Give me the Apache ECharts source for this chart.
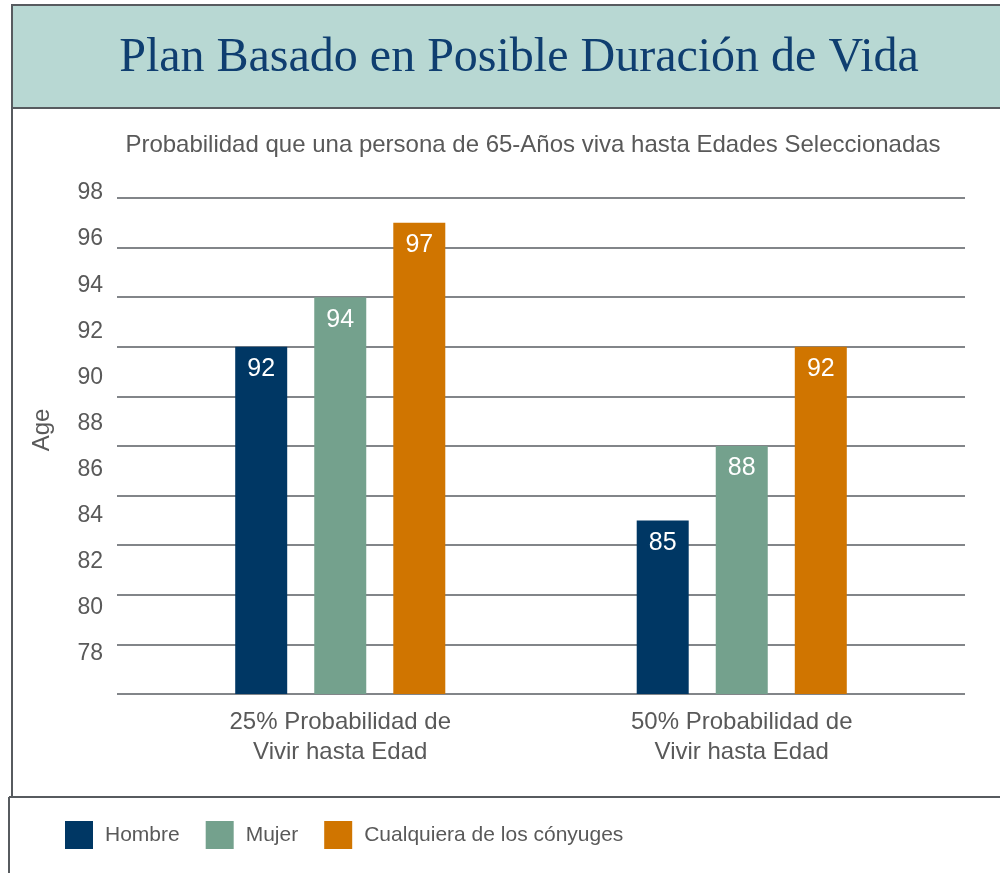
<!DOCTYPE html>
<html>
<head>
<meta charset="utf-8">
<script src="https://cdn.jsdelivr.net/npm/echarts@6/dist/echarts.min.js"></script>
<style>
  html, body { margin: 0; padding: 0; background: #fff; }
  #chart { width: 1000px; height: 873px; }
</style>
</head>
<body>
<div id="chart"></div>
<script>
const categories = ['25% Probabilidad de\nVivir hasta Edad', '50% Probabilidad de\nVivir hasta Edad'];
const hombre = [92, 85];
const mujer = [94, 88];
const conyuges = [97, 92];
const seriesNames = ['Hombre', 'Mujer', 'Cualquiera de los cónyuges'];
const yMin = 78;
const yMax = 98;
const yStep = 2;

const colors = ['#003764', '#74a18d', '#d07500'];
const textGray = '#595959';
const lineGray = '#585c62';
const sans = '"Liberation Sans", Arial, sans-serif';

const chart = echarts.init(document.getElementById('chart'));

const barLabel = {
  show: true,
  position: 'insideTop',
  distance: 10,
  color: '#fff',
  fontSize: 25,
  fontFamily: sans
};

const option = {
  backgroundColor: '#fff',
  animation: false,
  color: colors,
  graphic: [
    // title band
    {
      type: 'rect',
      shape: { x: 12, y: 5, width: 1000, height: 103 },
      style: { fill: '#b8d8d3', stroke: '#575b5f', lineWidth: 2 },
      z: 0
    },
    {
      type: 'text',
      x: 519,
      y: 58,
      style: {
        text: 'Plan Basado en Posible Duración de Vida',
        font: '48px "Liberation Serif", "Times New Roman", serif',
        fill: '#0f3e70',
        align: 'center',
        verticalAlign: 'middle'
      },
      z: 1
    },
    // chart panel left edge
    {
      type: 'line',
      shape: { x1: 12, y1: 108, x2: 12, y2: 797 },
      style: { stroke: '#575b5f', lineWidth: 2 }
    },
    // legend panel edges
    {
      type: 'line',
      shape: { x1: 9, y1: 797, x2: 1000, y2: 797 },
      style: { stroke: '#575b5f', lineWidth: 2 }
    },
    {
      type: 'line',
      shape: { x1: 9, y1: 797, x2: 9, y2: 873 },
      style: { stroke: '#575b5f', lineWidth: 2 }
    },
    {
      type: 'text',
      x: 533,
      y: 145,
      style: {
        text: 'Probabilidad que una persona de 65-Años viva hasta Edades Seleccionadas',
        font: '24px ' + sans,
        fill: textGray,
        align: 'center',
        verticalAlign: 'middle'
      }
    },
    {
      type: 'text',
      x: 42,
      y: 430,
      rotation: Math.PI / 2,
      style: {
        text: 'Age',
        font: '24px ' + sans,
        fill: textGray,
        align: 'center',
        verticalAlign: 'middle'
      }
    }
  ],
  legend: {
    data: seriesNames,
    left: 65,
    top: 821,
    padding: 0,
    icon: 'rect',
    itemWidth: 28,
    itemHeight: 28,
    itemGap: 26,
    textStyle: { color: textGray, fontSize: 21, fontFamily: sans, padding: [0, 0, 0, 7] }
  },
  grid: [
    // gridlines
    { left: 117, right: 35, top: 198, bottom: 179 },
    // tick labels (placed as in the source slide)
    { left: 111, right: 35, top: 193, bottom: 219 },
    // bars
    { left: 139.5, right: 57.5, top: 198, bottom: 179 }
  ],
  xAxis: [
    { gridIndex: 0, type: 'value', min: 0, max: 1, show: false },
    { gridIndex: 1, type: 'value', min: 0, max: 1, show: false },
    {
      gridIndex: 2,
      type: 'category',
      data: categories,
      axisLine: { show: false },
      axisTick: { show: false },
      axisLabel: { color: textGray, fontSize: 24, lineHeight: 30, fontFamily: sans, margin: 13 }
    }
  ],
  yAxis: [
    {
      gridIndex: 0,
      type: 'value',
      min: yMin,
      max: yMax,
      interval: yStep,
      axisLine: { show: false },
      axisTick: { show: false },
      axisLabel: { show: false },
      splitLine: { show: true, lineStyle: { color: lineGray, width: 1.5 } }
    },
    {
      gridIndex: 1,
      type: 'value',
      min: yMin,
      max: yMax,
      interval: yStep,
      axisLine: { show: false },
      axisTick: { show: false },
      splitLine: { show: false },
      axisLabel: { color: textGray, fontSize: 23, fontFamily: sans, margin: 8 }
    },
    {
      gridIndex: 2,
      type: 'value',
      min: yMin,
      max: yMax,
      interval: yStep,
      show: false
    }
  ],
  series: [
    { name: seriesNames[0], type: 'bar', xAxisIndex: 2, yAxisIndex: 2, data: hombre, barWidth: 52, barGap: '52%', label: barLabel },
    { name: seriesNames[1], type: 'bar', xAxisIndex: 2, yAxisIndex: 2, data: mujer, barWidth: 52, barGap: '52%', label: barLabel },
    { name: seriesNames[2], type: 'bar', xAxisIndex: 2, yAxisIndex: 2, data: conyuges, barWidth: 52, barGap: '52%', label: barLabel }
  ]
};

chart.setOption(option);
</script>
</body>
</html>
